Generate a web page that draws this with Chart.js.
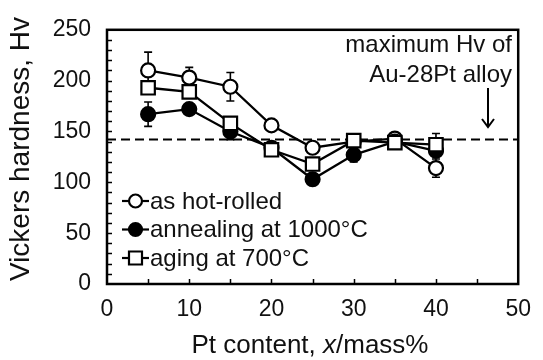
<!DOCTYPE html>
<html>
<head>
<meta charset="utf-8">
<script src="https://cdn.jsdelivr.net/npm/chart.js@4/dist/chart.umd.min.js"></script>
<style>
  html, body { margin: 0; padding: 0; background: #fff; }
  #wrap { width: 543px; height: 360px; }
</style>
</head>
<body>
<div id="wrap"><canvas id="myChart" width="543" height="360"></canvas></div>
<script>
// Pt content (mass%)
var ptContent = [5, 10, 15, 20, 25, 30, 35, 40];

var hotRolled = [210, 203, 194, 156, 134, 140, 143, 114];
var hotRolledErr = [18, 10, 14, 4, 4, 4, 4, 9];

var annealing = [167, 172, 150, 134, 103, 127, 140, 131];
var annealingErr = [12, 4, 8, 4, 4, 7, 4, 5];

var aging = [193, 189, 158, 132, 118, 141, 139, 137];
var agingErr = [4, 4, 4, 4, 4, 4, 4, 11];

var maxHv = 142;
var xTicks = [0, 10, 20, 30, 40, 50];
var yTicks = [0, 50, 100, 150, 200, 250];

var FONT = '"Liberation Sans", Arial, sans-serif';

function pts(ys) {
  return ptContent.map(function (x, i) { return { x: x, y: ys[i] }; });
}

// error bars, drawn under the markers
var errorBars = {
  id: 'errorBars',
  beforeDatasetsDraw: function (chart) {
    var ctx = chart.ctx, xs = chart.scales.x, ys = chart.scales.y;
    var sets = [[hotRolled, hotRolledErr], [annealing, annealingErr], [aging, agingErr]];
    ctx.save();
    ctx.strokeStyle = '#000';
    ctx.lineWidth = 1.6;
    sets.forEach(function (s) {
      ptContent.forEach(function (x, i) {
        var px = xs.getPixelForValue(x);
        var top = ys.getPixelForValue(s[0][i] + s[1][i]);
        var bot = ys.getPixelForValue(s[0][i] - s[1][i]);
        ctx.beginPath();
        ctx.moveTo(px, top); ctx.lineTo(px, bot);
        ctx.moveTo(px - 4, top); ctx.lineTo(px + 4, top);
        ctx.moveTo(px - 4, bot); ctx.lineTo(px + 4, bot);
        ctx.stroke();
      });
    });
    ctx.restore();
  }
};

// frame, inward ticks, titles, legend, note
var decorations = {
  id: 'decorations',
  afterDraw: function (chart) {
    var ctx = chart.ctx, a = chart.chartArea;
    var xs = chart.scales.x, ys = chart.scales.y;
    ctx.save();
    ctx.strokeStyle = '#000';
    ctx.lineWidth = 1.5;
    ctx.beginPath();
    for (var v = 10; v < 250; v += 10) {
      var py = Math.round(ys.getPixelForValue(v)) + 0.5;
      ctx.moveTo(a.left, py); ctx.lineTo(a.left + 5, py);
    }
    for (var u = 5; u < 50; u += 5) {
      var px = Math.round(xs.getPixelForValue(u)) + 0.5;
      ctx.moveTo(px, a.bottom); ctx.lineTo(px, a.bottom - 5);
    }
    ctx.stroke();

    ctx.lineWidth = 2.5;
    ctx.strokeRect(a.left, a.top, a.right - a.left, a.bottom - a.top);

    // axis titles
    ctx.fillStyle = '#111';
    ctx.textBaseline = 'middle';
    ctx.save();
    ctx.translate(21, 149);
    ctx.rotate(-Math.PI / 2);
    ctx.textAlign = 'center';
    ctx.font = '28px ' + FONT;
    ctx.fillText('Vickers hardness, Hv', 0, 0);
    ctx.restore();

    var parts = [['Pt content, ', ''], ['x', 'italic '], ['/mass%', '']];
    var total = 0;
    parts.forEach(function (p) { ctx.font = p[1] + '26px ' + FONT; total += ctx.measureText(p[0]).width; });
    var tx = 310 - total / 2;
    ctx.textAlign = 'left';
    parts.forEach(function (p) {
      ctx.font = p[1] + '26px ' + FONT;
      ctx.fillText(p[0], tx, 346);
      tx += ctx.measureText(p[0]).width;
    });

    // note about the dashed line
    ctx.font = '24px ' + FONT;
    ctx.textAlign = 'right';
    ctx.textBaseline = 'alphabetic';
    ctx.fillText('maximum Hv of', 512, 52);
    ctx.fillText('Au-28Pt alloy', 512, 82);
    ctx.lineWidth = 2;
    ctx.beginPath();
    ctx.moveTo(488, 88); ctx.lineTo(488, 127);
    ctx.moveTo(482, 119); ctx.lineTo(488, 127); ctx.lineTo(494, 119);
    ctx.stroke();

    // legend
    var items = [['as hot-rolled', 'open'], ['annealing at 1000\u00b0C', 'filled'], ['aging at 700\u00b0C', 'square']];
    ctx.textAlign = 'left';
    ctx.textBaseline = 'middle';
    items.forEach(function (it, i) {
      var y = 201 + i * 28.5;
      ctx.lineWidth = 2.2;
      ctx.beginPath();
      ctx.moveTo(122, y); ctx.lineTo(149, y);
      ctx.stroke();
      ctx.fillStyle = it[1] === 'filled' ? '#000' : '#fff';
      ctx.beginPath();
      if (it[1] === 'square') ctx.rect(129, y - 6.5, 13, 13);
      else ctx.arc(135.5, y, 6.5, 0, Math.PI * 2);
      ctx.fill();
      ctx.stroke();
      ctx.fillStyle = '#111';
      ctx.font = '24px ' + FONT;
      ctx.fillText(it[0], 150, y + 1);
    });
    ctx.restore();
  }
};

var config = {
  type: 'line',
  data: {
    datasets: [{
      label: 'as hot-rolled',
      data: pts(hotRolled),
      borderColor: '#000',
      backgroundColor: '#fff',
      borderWidth: 2.3,
      pointStyle: 'circle',
      pointRadius: 7,
      pointBorderWidth: 2.2,
      order: 2
    }, {
      label: 'annealing at 1000\u00b0C',
      data: pts(annealing),
      borderColor: '#000',
      backgroundColor: '#000',
      borderWidth: 2.3,
      pointStyle: 'circle',
      pointRadius: 7,
      pointBorderWidth: 2.2,
      order: 1
    }, {
      label: 'aging at 700\u00b0C',
      data: pts(aging),
      borderColor: '#000',
      backgroundColor: '#fff',
      borderWidth: 2.3,
      pointStyle: 'rect',
      pointRadius: 9.5,
      pointBorderWidth: 2.2,
      order: 0
    }, {
      label: 'maximum Hv',
      data: [{ x: 0, y: maxHv }, { x: 50, y: maxHv }],
      borderColor: '#000',
      borderWidth: 2,
      borderDash: [9, 5],
      pointRadius: 0,
      order: 3
    }]
  },
  options: {
    responsive: false,
    animation: false,
    layout: { padding: { top: 19, right: 15, left: 0, bottom: 0 } },
    plugins: { legend: { display: false }, tooltip: { enabled: false } },
    scales: {
      x: {
        type: 'linear', min: 0, max: 50,
        afterBuildTicks: function (s) { s.ticks = xTicks.map(function (v) { return { value: v }; }); },
        grid: { display: false, drawTicks: false },
        border: { display: false },
        ticks: { color: '#111', padding: 12, font: { family: FONT, size: 23 } },
        afterFit: function (s) { s.height = 76; }
      },
      y: {
        min: 0, max: 250,
        afterBuildTicks: function (s) { s.ticks = yTicks.map(function (v) { return { value: v }; }); },
        grid: { display: false, drawTicks: false },
        border: { display: false },
        ticks: { color: '#111', padding: 16, font: { family: FONT, size: 23 } },
        afterFit: function (s) { s.width = 107; }
      }
    }
  },
  plugins: [errorBars, decorations]
};

var myChart = new Chart(document.getElementById('myChart'), config);
</script>
</body>
</html>
